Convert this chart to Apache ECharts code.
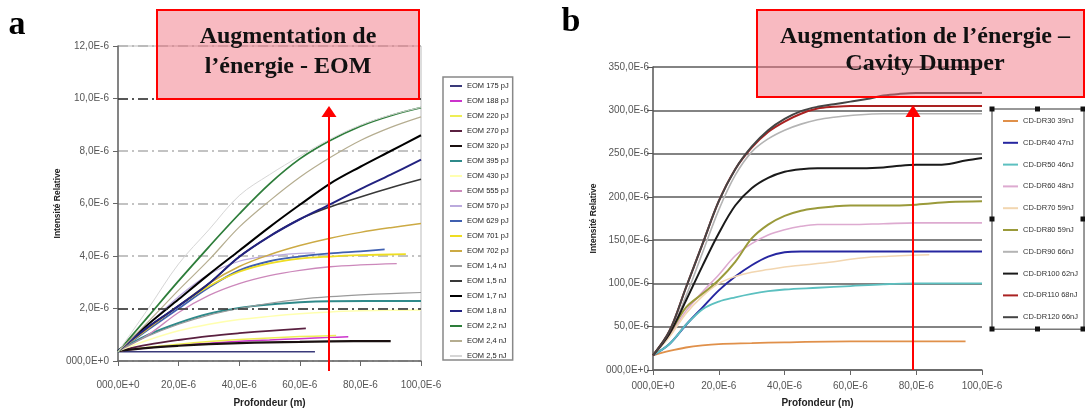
<!DOCTYPE html>
<html><head><meta charset="utf-8">
<script src="https://cdn.jsdelivr.net/npm/echarts@6/dist/echarts.min.js"></script>
<style>html,body{margin:0;padding:0;background:#fff;}#c{width:1085px;height:411px;}</style>
</head><body><div id="c"></div>
<script>
// ---------- tick labels ----------
const xTickLabels = ['000,0E+0','20,0E-6','40,0E-6','60,0E-6','80,0E-6','100,0E-6'];
const yTickLabelsA = ['000,0E+0','2,0E-6','4,0E-6','6,0E-6','8,0E-6','10,0E-6','12,0E-6'];
const yTickLabelsB = ['000,0E+0','50,0E-6','100,0E-6','150,0E-6','200,0E-6','250,0E-6','300,0E-6','350,0E-6'];
const darkGridA = [2, 10];

// ---------- chart a : EOM (depth E-6 m, intensity E-6) ----------
const namesA = ['EOM 175 pJ','EOM 188 pJ','EOM 220 pJ','EOM 270 pJ','EOM 320 pJ','EOM 395 pJ','EOM 430 pJ','EOM 555 pJ','EOM 570 pJ','EOM 629 pJ','EOM 701 pJ','EOM 702 pJ','EOM 1,4 nJ','EOM 1,5 nJ','EOM 1,7 nJ','EOM 1,8 nJ','EOM 2,2 nJ','EOM 2,4 nJ','EOM 2,5 nJ'];
const colorsA = ['#3a3a7a','#cc33cc','#eeee55','#5a2040','#1a1010','#2f8a8a','#ffffb0','#cc88bb','#bbaadd','#4060b0','#eedd22','#ccaa44','#9a9a9a','#383838','#000000','#222280','#2d7d3a','#b5ad90','#d6d6d6'];
const eom175 = [[0,0.35],[65,0.35]];
const eom188 = [[0,0.38],[10,0.5],[20,0.6],[30,0.68],[40,0.75],[50,0.8],[60,0.85],[70,0.9],[76,0.92]];
const eom220 = [[0,0.38],[10,0.52],[20,0.64],[30,0.74],[40,0.82],[50,0.88],[60,0.93],[72,0.97]];
const eom270 = [[0,0.38],[10,0.62],[20,0.8],[30,0.95],[40,1.06],[50,1.15],[62,1.24]];
const eom320 = [[0,0.38],[10,0.5],[20,0.58],[30,0.64],[40,0.68],[50,0.71],[60,0.73],[70,0.75],[90,0.76]];
const eom395 = [[0,0.38],[10,1.0],[20,1.45],[30,1.8],[40,2.02],[50,2.15],[60,2.24],[70,2.28],[100,2.29]];
const eom430 = [[0,0.38],[10,0.8],[20,1.15],[30,1.4],[40,1.58],[50,1.7],[60,1.8],[70,1.87],[80,1.91],[90,1.93],[100,1.94]];
const eom555 = [[0,0.38],[10,1.0],[20,1.85],[30,2.5],[40,2.95],[50,3.25],[60,3.45],[70,3.59],[80,3.66],[92,3.71]];
const eom570 = [[0,0.38],[10,1.4],[20,2.45],[30,3.3],[40,3.8],[50,4.0],[60,4.1],[65,4.12]];
const eom629 = [[0,0.38],[10,1.2],[20,2.0],[30,2.8],[40,3.45],[50,3.8],[60,3.98],[70,4.1],[80,4.18],[88,4.25]];
const eom701 = [[0,0.38],[10,1.25],[20,2.1],[30,2.85],[40,3.4],[50,3.72],[60,3.9],[70,3.98],[80,4.03],[95,4.07]];
const eom702 = [[0,0.38],[10,1.25],[20,2.1],[30,2.95],[40,3.6],[50,4.05],[60,4.4],[70,4.68],[80,4.9],[90,5.08],[100,5.24]];
const eom14 = [[0,0.38],[10,0.95],[20,1.4],[30,1.75],[40,2.0],[50,2.2],[60,2.35],[70,2.45],[80,2.52],[90,2.57],[100,2.61]];
const eom15 = [[0,0.38],[10,1.3],[20,2.1],[30,2.95],[40,3.97],[50,4.75],[60,5.4],[70,5.87],[80,6.25],[90,6.6],[100,6.92]];
const eom17 = [[0,0.38],[10,1.4],[20,2.35],[30,3.3],[40,4.2],[50,5.1],[60,5.95],[70,6.76],[80,7.4],[90,8.0],[100,8.6]];
const eom18 = [[0,0.38],[10,1.3],[20,2.1],[30,2.95],[40,3.97],[50,4.75],[60,5.4],[70,5.97],[80,6.55],[90,7.1],[100,7.67]];
const eom22 = [[0,0.35],[10,1.7],[20,3.05],[30,4.35],[40,5.6],[50,6.75],[60,7.7],[70,8.4],[80,8.95],[90,9.35],[100,9.65]];
const eom24 = [[0,0.35],[10,1.5],[20,2.7],[30,3.85],[40,5.1],[50,6.1],[60,7.0],[70,7.75],[80,8.4],[90,8.9],[100,9.3]];
const eom25 = [[0,0.35],[10,2.0],[20,3.7],[30,5.0],[40,6.3],[50,7.1],[60,7.8],[70,8.45],[80,8.98],[90,9.37],[100,9.66]];
const dataA = [eom175,eom188,eom220,eom270,eom320,eom395,eom430,eom555,eom570,eom629,eom701,eom702,eom14,eom15,eom17,eom18,eom22,eom24,eom25];
const widthsA = [1.5,1.5,1.5,1.8,2.2,2,1.5,1.3,1.3,1.8,1.8,1.5,1.2,1.6,2,2,1.8,1.2,1];

// ---------- chart b : Cavity Dumper ----------
const namesB = ['CD-DR30 39nJ','CD-DR40 47nJ','CD-DR50 46nJ','CD-DR60 48nJ','CD-DR70 59nJ','CD-DR80 59nJ','CD-DR90 66nJ','CD-DR100 62nJ','CD-DR110 68nJ','CD-DR120 66nJ'];
const colorsB = ['#e0904a','#2626a0','#5cc0c0','#ddaad0','#f2d6b0','#9a9a3a','#b4b4b4','#1a1a1a','#aa2222','#444444'];
const cd30 = [[0,17],[5,22],[10,26],[15,28.5],[20,30],[30,31],[40,32],[60,33],[80,33],[95,33]];
const cd40 = [[0,17],[5,30],[10,52],[15,72],[20,92],[25,108],[30,121],[35,131],[40,136],[45,137],[100,137]];
const cd50 = [[0,17],[5,30],[10,52],[15,70],[20,79],[25,84],[30,88],[35,91],[40,93],[50,95],[60,97],[70,99],[80,100],[100,100]];
const cd60 = [[0,17],[5,40],[10,68],[15,90],[20,110],[25,132],[30,146],[35,156],[40,162],[45,166],[50,168],[60,168],[70,169],[80,170],[100,170]];
const cd70 = [[0,17],[5,38],[10,65],[15,85],[20,100],[25,108],[30,113],[35,116],[40,119],[45,121],[50,123],[55,125],[60,128],[65,130],[70,131],[75,132],[84,133]];
const cd80 = [[0,17],[5,42],[10,72],[15,88],[20,104],[25,125],[30,152],[35,168],[40,178],[45,184],[50,187],[55,189],[60,190],[70,190],[80,191],[90,194],[100,195]];
const cd90 = [[0,17],[5,42],[10,85],[15,135],[20,185],[25,225],[30,252],[35,267],[40,277],[45,284],[50,289],[55,292],[60,294],[70,296],[100,296]];
const cd100 = [[0,17],[5,42],[10,80],[15,120],[20,158],[25,190],[30,210],[35,222],[40,229],[45,232],[50,233],[60,233],[70,234],[75,236],[80,237],[85,237],[90,238],[95,242],[100,245]];
const cd110 = [[0,17],[5,45],[10,95],[15,145],[20,195],[25,232],[30,257],[35,275],[40,287],[45,296],[50,302],[55,304],[60,305],[100,305]];
const cd120 = [[0,17],[5,45],[10,95],[15,145],[20,195],[25,232],[30,258],[35,277],[40,290],[45,299],[50,304],[55,307],[60,310],[65,313],[70,317],[75,319],[80,320],[100,320]];
const dataB = [cd30,cd40,cd50,cd60,cd70,cd80,cd90,cd100,cd110,cd120];
const widthsB = [1.8,2,1.8,1.6,1.5,2,1.6,2,2,2];

const chart = echarts.init(document.getElementById('c'), null, {renderer:'canvas'});
const axisFont = {fontFamily:'Liberation Sans, Arial, sans-serif', fontSize:10, color:'#555'};
const nameFont = {fontFamily:'Liberation Sans, Arial, sans-serif', fontSize:10, fontWeight:'bold', color:'#222'};

const series = [];
dataA.forEach((d,i)=>{
  const s = {type:'line', name:namesA[i], xAxisIndex:0, yAxisIndex:0, data:d, smooth:0.35,
    symbol:'none', showSymbol:false, lineStyle:{color:colorsA[i], width:widthsA[i]}, itemStyle:{color:colorsA[i]}, z:3, animation:false};
  if (i===0) s.markLine = {silent:true, symbol:'none', label:{show:false}, animation:false,
    lineStyle:{color:'#333', width:1.5, type:[10,4,2,4]}, data: darkGridA.map(v=>({yAxis:v}))};
  series.push(s);
});
dataB.forEach((d,i)=>{
  series.push({type:'line', name:namesB[i], xAxisIndex:1, yAxisIndex:1, data:d, smooth:0.35,
    symbol:'none', showSymbol:false, lineStyle:{color:colorsB[i], width:widthsB[i]}, itemStyle:{color:colorsB[i]}, z:3, animation:false});
});
const orderA = [18,17,6,12,8,7,2,1,0,3,4,5,9,10,11,13,15,14,16];
orderA.forEach((idx,k)=>{ series[idx].z2 = k; });

function xAxisCfg(gridIndex, margin, nameGap){
  return {type:'value', gridIndex, min:0, max:100, interval:20,
    name:'Profondeur (m)', nameLocation:'middle', nameGap, nameTextStyle:nameFont,
    axisLine:{show:true, lineStyle:{color:'#666', width:1.5}},
    axisTick:{show:true, length:5, lineStyle:{color:'#666'}},
    axisLabel:{...axisFont, margin, formatter:v=>xTickLabels[Math.round(v/20)]},
    splitLine:{show:false}};
}

const option = {
  backgroundColor:'#fff',
  animation:false,
  grid:[
    {left:118, top:46, width:303, height:315, show:true, borderColor:'#bbb', borderWidth:1, containLabel:false, outerBoundsMode:'none'},
    {left:653, top:67, width:329, height:303, show:false, containLabel:false, outerBoundsMode:'none'}
  ],
  xAxis:[ xAxisCfg(0, 19, 37), xAxisCfg(1, 11, 28) ],
  yAxis:[
    {type:'value', gridIndex:0, min:0, max:12, interval:2,
     name:'Intensité Relative', nameLocation:'middle', nameRotate:90, nameGap:53,
     nameTextStyle:{...nameFont, fontSize:8.5},
     axisLine:{show:true, lineStyle:{color:'#666', width:1.5}},
     axisTick:{show:true, length:5, lineStyle:{color:'#666'}},
     axisLabel:{...axisFont, margin:9, formatter:v=>yTickLabelsA[Math.round(v/2)]},
     splitLine:{show:true, lineStyle:{color:'#b0b0b0', width:1.5, type:[10,4,2,4]}}},
    {type:'value', gridIndex:1, min:0, max:350, interval:50,
     name:'Intensité Relative', nameLocation:'middle', nameRotate:90, nameGap:55,
     nameTextStyle:{...nameFont, fontSize:8.5},
     axisLine:{show:true, lineStyle:{color:'#555', width:1.5}},
     axisTick:{show:true, length:6, lineStyle:{color:'#555'}},
     axisLabel:{...axisFont, margin:4, formatter:v=>yTickLabelsB[Math.round(v/50)]},
     splitLine:{show:true, lineStyle:{color:'#5a5a5a', width:1.6}}}
  ],
  legend:[
    {data:namesA, orient:'vertical', left:443, top:77, width:69,
     padding:[5,4,0,6], itemGap:7, itemWidth:12, itemHeight:8,
     itemStyle:{opacity:0},
     backgroundColor:'#fff', borderColor:'#888', borderWidth:1.5,
     textStyle:{fontFamily:'Liberation Sans, Arial, sans-serif', fontSize:7.5, color:'#222'},
     selectedMode:false},
    {data:namesB, orient:'vertical', left:992, top:109, width:91,
     padding:[8,6,8,10], itemGap:13.8, itemWidth:15, itemHeight:8,
     itemStyle:{opacity:0},
     backgroundColor:'#fff', borderColor:'#777', borderWidth:1.5,
     textStyle:{fontFamily:'Liberation Sans, Arial, sans-serif', fontSize:7.5, color:'#333'},
     selectedMode:false}
  ],
  series,
  graphic:[
    {type:'text', z:100, style:{text:'a', x:17, y:25, textAlign:'center', textVerticalAlign:'middle', font:'bold 34px "Liberation Serif", serif', fill:'#000'}},
    {type:'text', z:100, style:{text:'b', x:571, y:22, textAlign:'center', textVerticalAlign:'middle', font:'bold 34px "Liberation Serif", serif', fill:'#000'}},
    {type:'rect', z:100, shape:{x:157, y:10, width:262, height:89}, style:{fill:'rgba(240,110,125,0.48)', stroke:'#ff0000', lineWidth:2}},
    {type:'text', z:101, style:{text:'Augmentation de', x:288, y:37, textAlign:'center', textVerticalAlign:'middle', font:'bold 24px "Liberation Serif", serif', fill:'#111'}},
    {type:'text', z:101, style:{text:'l’énergie - EOM', x:288, y:67, textAlign:'center', textVerticalAlign:'middle', font:'bold 24px "Liberation Serif", serif', fill:'#111'}},
    {type:'rect', z:100, shape:{x:757, y:10, width:327, height:87}, style:{fill:'rgba(240,110,125,0.48)', stroke:'#ff0000', lineWidth:2}},
    {type:'text', z:101, style:{text:'Augmentation de l’énergie –', x:925, y:37, textAlign:'center', textVerticalAlign:'middle', font:'bold 24px "Liberation Serif", serif', fill:'#111'}},
    {type:'text', z:101, style:{text:'Cavity Dumper', x:925, y:64, textAlign:'center', textVerticalAlign:'middle', font:'bold 24px "Liberation Serif", serif', fill:'#111'}},
    {type:'line', z:100, shape:{x1:329, y1:371, x2:329, y2:114}, style:{stroke:'#ff0000', lineWidth:2}},
    {type:'polygon', z:100, shape:{points:[[329,106],[321.5,117],[336.5,117]]}, style:{fill:'#ff0000'}},
    {type:'line', z:100, shape:{x1:913, y1:370, x2:913, y2:114}, style:{stroke:'#ff0000', lineWidth:2}},
    {type:'polygon', z:100, shape:{points:[[913,105],[905.5,117],[920.5,117]]}, style:{fill:'#ff0000'}},
    ...[[992,109],[1037.5,109],[1083,109],[992,219],[1083,219],[992,329],[1037.5,329],[1083,329]].map(p=>(
      {type:'rect', z:102, shape:{x:p[0]-2.5, y:p[1]-2.5, width:5, height:5}, style:{fill:'#111'}}))
  ]
};
chart.setOption(option);
</script>
</body></html>
